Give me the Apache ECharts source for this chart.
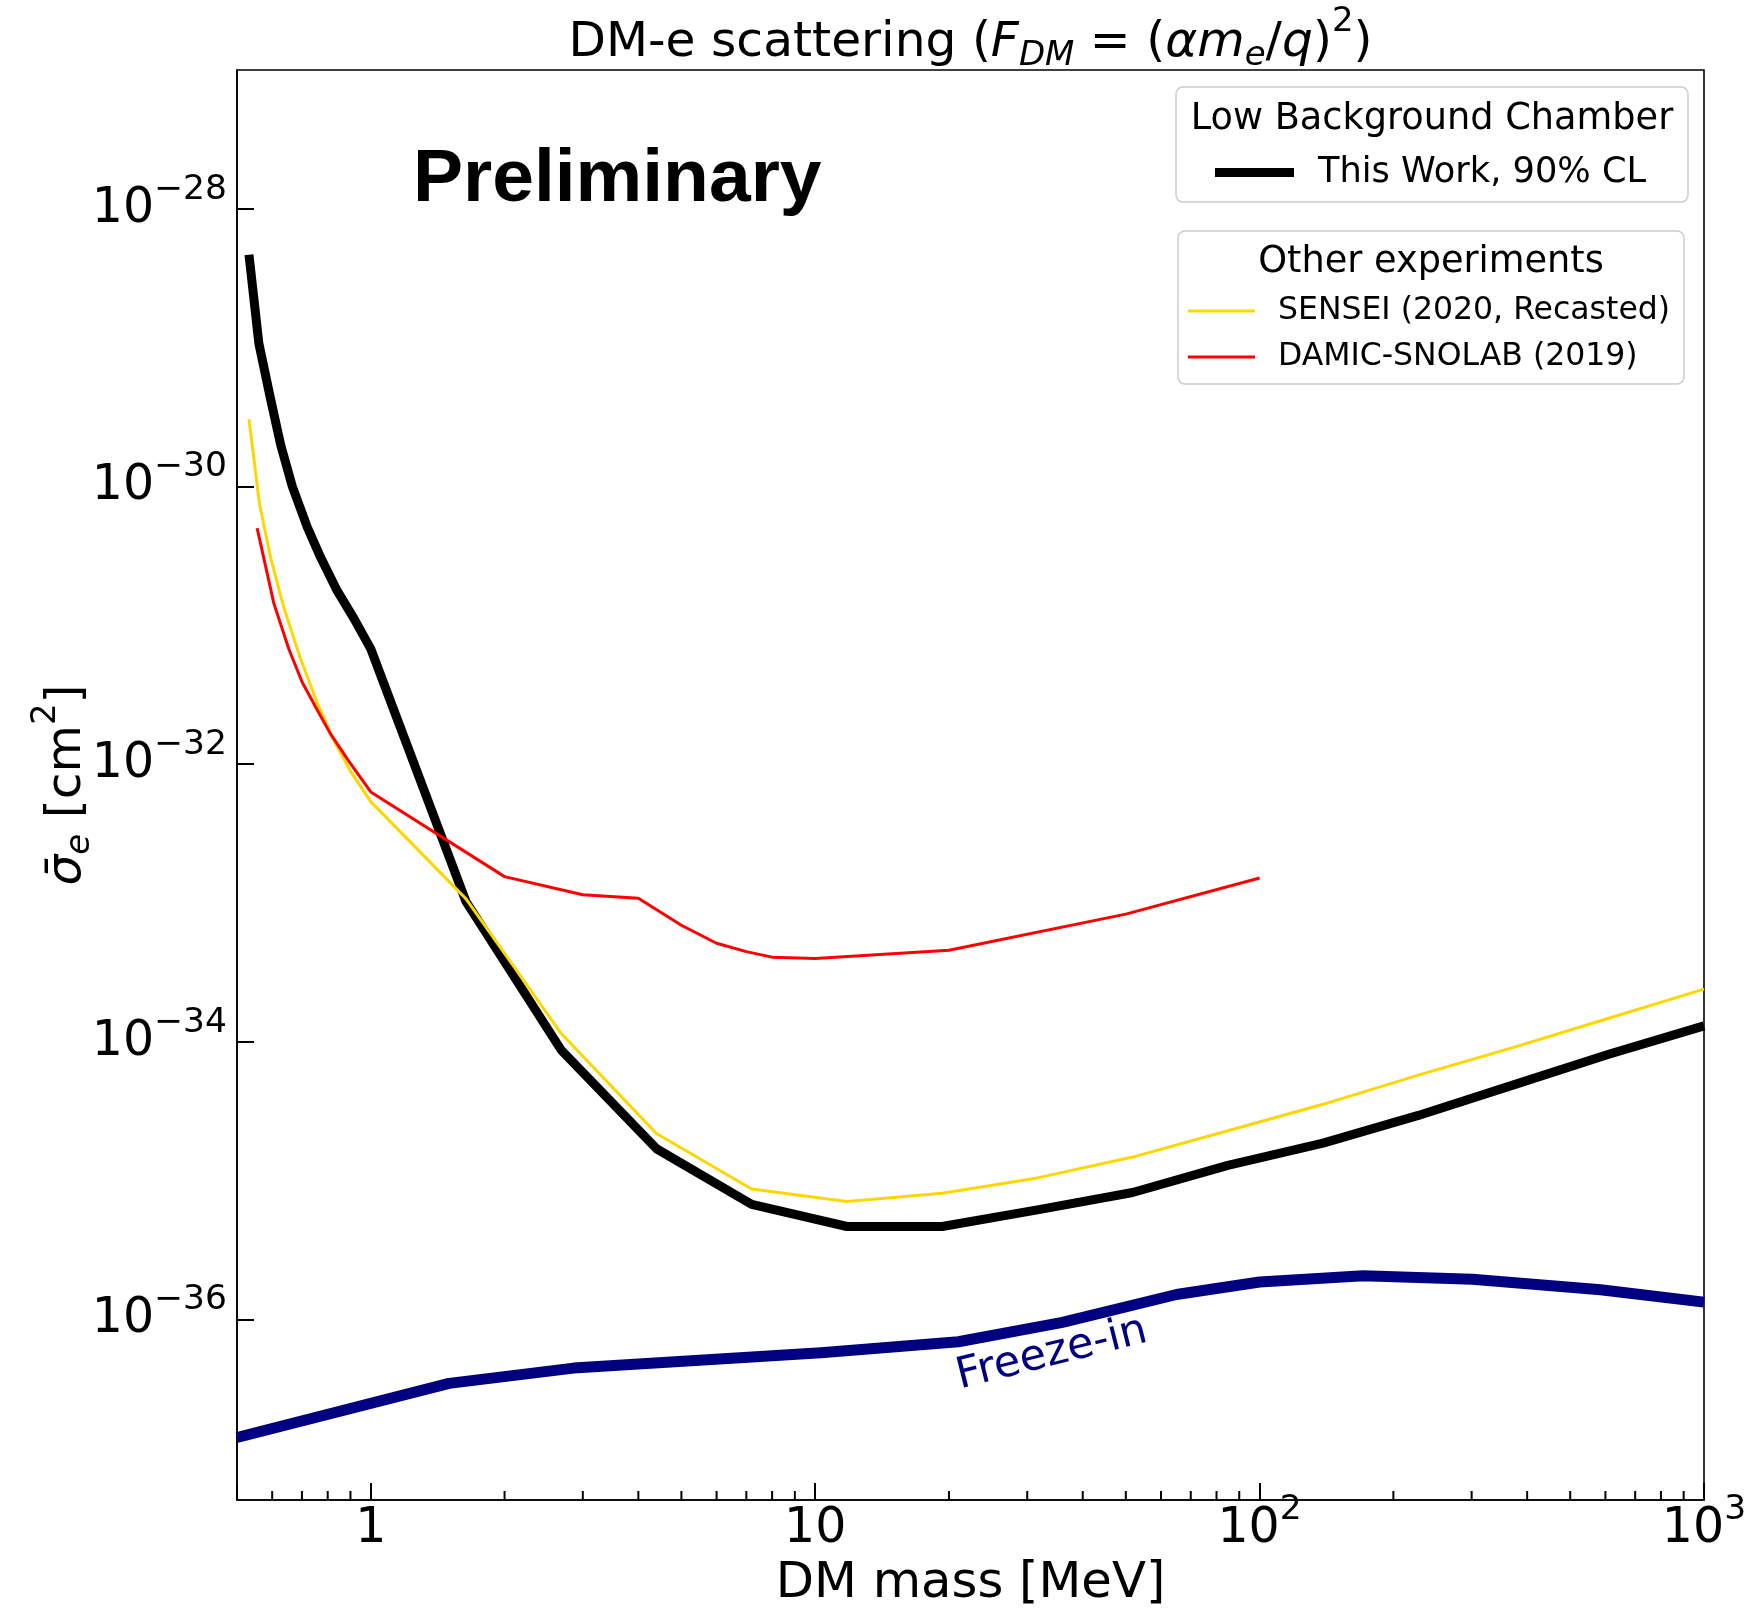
<!DOCTYPE html>
<html>
<head>
<meta charset="utf-8">
<script src="https://cdn.jsdelivr.net/npm/echarts@6/dist/echarts.min.js"></script>
<style>
html, body { margin: 0; padding: 0; background: #ffffff; }
#chart { width: 1749px; height: 1608px; }
</style>
</head>
<body>
<div id="chart"></div>
<script>
// ---------------- DATA ----------------
// DM mass in MeV; cross sections given as log10(sigma_e / cm^2)
const thisWorkMass = [0.532, 0.56, 0.595, 0.627, 0.666, 0.719, 0.771, 0.84, 0.916, 1, 1.638, 2.683, 4.394, 7.197, 11.79, 19.31, 31.62, 51.79, 84.83, 138.9, 227.6, 372.8, 610.5, 1000];
const thisWorkLogSigma = [-28.33, -28.97, -29.37, -29.70, -30.00, -30.29, -30.51, -30.75, -30.95, -31.17, -32.99, -34.06, -34.77, -35.17, -35.33, -35.33, -35.21, -35.085, -34.89, -34.73, -34.53, -34.31, -34.09, -33.885];

const senseiMass = [0.532, 0.562, 0.595, 0.637, 0.695, 0.758, 0.826, 0.9, 1, 1.638, 2.683, 4.394, 7.197, 11.79, 19.31, 31.62, 51.79, 84.83, 138.9, 227.6, 372.8, 610.5, 1000];
const senseiLogSigma = [-29.515, -30.13, -30.51, -30.87, -31.24, -31.56, -31.83, -32.05, -32.27, -32.97, -33.94, -34.66, -35.06, -35.15, -35.09, -34.98, -34.83, -34.64, -34.45, -34.24, -34.04, -33.83, -33.62];

const damicMass = [0.555, 0.605, 0.654, 0.701, 0.758, 0.811, 0.893, 1, 2, 3, 4, 5, 6, 7, 8, 10, 20, 50, 100];
const damicLogSigma = [-30.30, -30.84, -31.17, -31.41, -31.61, -31.78, -31.98, -32.20, -32.81, -32.94, -32.965, -33.16, -33.29, -33.35, -33.39, -33.40, -33.34, -33.08, -32.82];

const freezeInMass = [0.5, 1.5, 2.86, 10.3, 21, 36, 65, 100, 171, 301, 585, 1000];
const freezeInLogSigma = [-36.85, -36.46, -36.35, -36.24, -36.16, -36.02, -35.82, -35.73, -35.685, -35.71, -35.785, -35.875];

// axis ticks / labels
const xMajorTicks = [1, 10, 100, 1000];
const xTickBase = ['1', '10', '10', '10'];
const xTickExp = ['', '', '2', '3'];
const xMinorTicks = [0.6, 0.7, 0.8, 0.9, 2, 3, 4, 5, 6, 7, 8, 9, 20, 30, 40, 50, 60, 70, 80, 90, 200, 300, 400, 500, 600, 700, 800, 900];
const yTickExps = [-36, -34, -32, -30, -28];
const xRange = [0.5, 1000];
const yLogRange = [-37.3, -27];

const seriesNames = ['This Work, 90% CL', 'SENSEI (2020, Recasted)', 'DAMIC-SNOLAB (2019)', 'Freeze-in'];

// ---------------- CHART ----------------
const FONT = '"DejaVu Sans"';
const pairs = (xs, ys) => xs.map((x, i) => [x, ys[i]]);

const tickRich = {
  b: { fontSize: 49, fontFamily: FONT, color: '#000', lineHeight: 60, verticalAlign: 'middle' },
  s: { fontSize: 34.5, fontFamily: FONT, color: '#000', lineHeight: 22, height: 22, verticalAlign: 'top' }
};

const titleRich = {
  n: { fontSize: 48.7, fontFamily: FONT, fill: '#000', color: '#000', lineHeight: 76, verticalAlign: 'middle' },
  i: { fontSize: 48.7, fontFamily: FONT, fontStyle: 'italic', fill: '#000', color: '#000', lineHeight: 76, verticalAlign: 'middle' },
  sub: { fontSize: 34, fontFamily: FONT, fontStyle: 'italic', fill: '#000', color: '#000', lineHeight: 49, height: 49, verticalAlign: 'bottom' },
  sup: { fontSize: 34, fontFamily: FONT, fill: '#000', color: '#000', lineHeight: 35, height: 35, verticalAlign: 'top' }
};

const chart = echarts.init(document.getElementById('chart'), null, { renderer: 'canvas' });

function lineSeries(name, xs, ys, color, width, z) {
  return {
    type: 'line', name: name, data: pairs(xs, ys),
    showSymbol: false, symbol: 'none', z: z,
    lineStyle: { color: color, width: width, cap: 'butt', join: 'round' },
    itemStyle: { color: color },
    emphasis: { disabled: true }
  };
}

const option = {
  animation: false,
  backgroundColor: '#ffffff',
  textStyle: { fontFamily: FONT },
  grid: { left: 237, right: 45, top: 70, bottom: 108, containLabel: false, outerBoundsMode: 'none',
          show: true, borderColor: '#000', borderWidth: 1.6, backgroundColor: '#fff' },
  xAxis: {
    type: 'log', logBase: 10, min: xRange[0], max: xRange[1],
    name: 'DM mass [MeV]', nameLocation: 'middle', nameGap: 84, nameMoveOverlap: false,
    nameTextStyle: { fontSize: 49.7, fontFamily: FONT, color: '#000', align: 'center', verticalAlign: 'middle' },
    axisLine: { show: true, onZero: false, lineStyle: { color: '#000', width: 1.6 } },
    axisTick: { show: true, inside: true, length: 17, lineStyle: { color: '#000', width: 2 } },
    minorTick: { show: false },
    splitLine: { show: false },
    axisLabel: {
      show: true, margin: -1, showMinLabel: true, showMaxLabel: true, hideOverlap: false,
      formatter: function (v) {
        const i = xMajorTicks.findIndex(t => Math.abs(t - v) / t < 1e-6);
        if (i < 0) return '';
        return '{b|' + xTickBase[i] + '}' + (xTickExp[i] ? '{s|' + xTickExp[i] + '}' : '');
      },
      rich: tickRich
    }
  },
  yAxis: {
    type: 'value', min: yLogRange[0], max: yLogRange[1],
    axisLine: { show: true, lineStyle: { color: '#000', width: 1.6 } },
    axisTick: { show: true, inside: true, length: 17, lineStyle: { color: '#000', width: 2 }, customValues: yTickExps },
    splitLine: { show: false },
    axisLabel: {
      show: true, margin: 10, customValues: yTickExps,
      formatter: function (v) { return '{b|10}{s|\u2212' + Math.abs(Math.round(v)) + '}'; },
      rich: tickRich
    }
  },
  legend: [
    {
      data: [{ name: seriesNames[0], icon: 'rect' }],
      left: 1215, top: 155, orient: 'vertical', padding: 0,
      itemWidth: 79, itemHeight: 9, selectedMode: false,
      formatter: n => '{t|' + n + '}',
      textStyle: { rich: { t: { fontSize: 35.2, fontFamily: FONT, color: '#000', lineHeight: 40, padding: [0, 0, 0, 19] } } }
    },
    {
      data: [{ name: seriesNames[1], icon: 'rect' }, { name: seriesNames[2], icon: 'rect' }],
      left: 1188, top: 295, orient: 'vertical', padding: 0, itemGap: 14,
      itemWidth: 67, itemHeight: 3, selectedMode: false,
      formatter: n => '{t|' + n + '}',
      textStyle: { rich: { t: { fontSize: 31.5, fontFamily: FONT, color: '#000', lineHeight: 40, padding: [0, 0, 0, 18] } } }
    }
  ],
  graphic: [
    { type: 'rect', z: 3, shape: { x: 1176, y: 87, width: 512, height: 115, r: 7 },
      style: { fill: 'rgba(255,255,255,0.8)', stroke: '#cccccc', lineWidth: 1.5 } },
    { type: 'rect', z: 3, shape: { x: 1178, y: 231, width: 506, height: 153, r: 7 },
      style: { fill: 'rgba(255,255,255,0.8)', stroke: '#cccccc', lineWidth: 1.5 } },
    { type: 'text', z: 6, x: 1432, y: 119,
      style: { text: 'Low Background Chamber', fontSize: 36.7, fontFamily: FONT, fill: '#000', align: 'center', verticalAlign: 'middle' } },
    { type: 'text', z: 6, x: 1431, y: 262,
      style: { text: 'Other experiments', fontSize: 36.7, fontFamily: FONT, fill: '#000', align: 'center', verticalAlign: 'middle' } },
    { type: 'text', z: 6, x: 413, y: 180,
      style: { text: 'Preliminary', fontSize: 75, fontWeight: 'bold', fontFamily: '"Liberation Sans"', fill: '#000', align: 'left', verticalAlign: 'middle' } },
    { type: 'text', z: 6, x: 970.5, y: 43,
      style: { text: '{n|DM-e scattering (}{i|F}{sub|DM}{n| = (}{i|αm}{sub|e}{n|/}{i|q}{n|)}{sup|2}{n|)}', rich: titleRich, align: 'center', verticalAlign: 'middle' } },
    { type: 'text', z: 6, x: 67, y: 785, rotation: Math.PI / 2,
      style: { text: '{i|σ̄}{sub|e}{n| [cm}{sup|2}{n|]}', rich: titleRich, align: 'center', verticalAlign: 'middle' } },
    { type: 'text', z: 6, x: 1052, y: 1354, rotation: 14 * Math.PI / 180,
      style: { text: seriesNames[3], fontSize: 43, fontFamily: FONT, fill: '#000080', align: 'center', verticalAlign: 'middle' } }
  ],
  series: [
    lineSeries(seriesNames[0], thisWorkMass, thisWorkLogSigma, '#000000', 9, 2),
    lineSeries(seriesNames[1], senseiMass, senseiLogSigma, '#FFD700', 3, 3),
    lineSeries(seriesNames[2], damicMass, damicLogSigma, '#FF0000', 3, 4),
    lineSeries(seriesNames[3], freezeInMass, freezeInLogSigma, '#000080', 11, 5),
    {
      type: 'custom', name: 'minorTicks', silent: true, clip: false, z: 10,
      data: xMinorTicks.map(v => [v, yLogRange[0]]),
      renderItem: function (params, api) {
        const p = api.coord([api.value(0), api.value(1)]);
        return { type: 'line', shape: { x1: p[0], y1: p[1], x2: p[0], y2: p[1] - 9 }, style: { stroke: '#000', lineWidth: 2 } };
      }
    }
  ]
};

chart.setOption(option);
</script>
</body>
</html>
